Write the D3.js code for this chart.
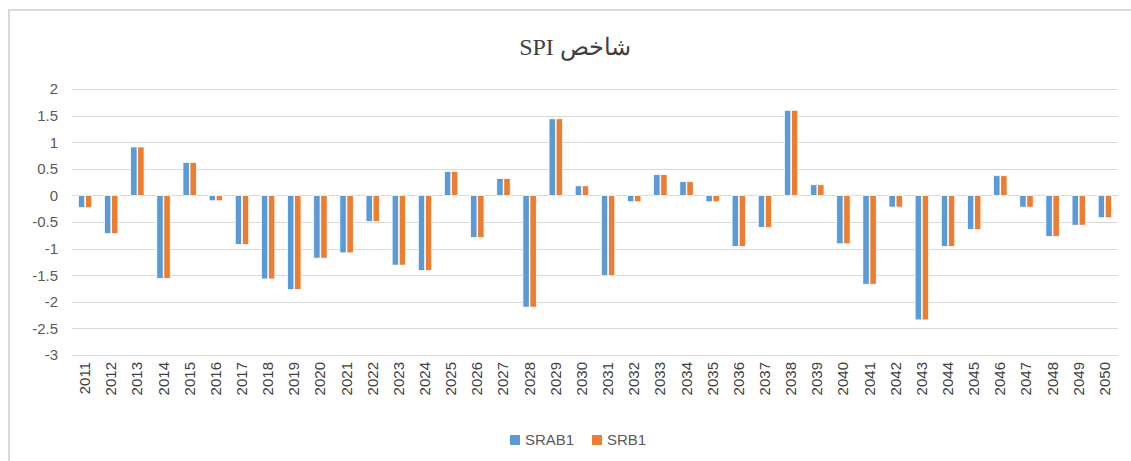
<!DOCTYPE html>
<html>
<head>
<meta charset="utf-8">
<script src="https://cdn.jsdelivr.net/npm/d3@7"></script>
<style>
  body { margin: 0; background: #fff; }
  text { font-family: "Liberation Sans", Arial, sans-serif; fill: #595959; }
</style>
</head>
<body>
<div class="viz"></div>
<script>
var years = d3.range(2011, 2051).map(String);
var seriesNames = ['SRAB1', 'SRB1'];
var srab1 = [-0.23, -0.72, 0.91, -1.56, 0.62, -0.1, -0.92, -1.57, -1.77, -1.18,
             -1.08, -0.49, -1.31, -1.41, 0.45, -0.79, 0.32, -2.1, 1.44, 0.18,
             -1.51, -0.12, 0.39, 0.26, -0.12, -0.96, -0.6, 1.6, 0.2, -0.91,
             -1.67, -0.22, -2.34, -0.96, -0.64, 0.37, -0.22, -0.77, -0.56, -0.42];
var srb1 = srab1.slice();
var yTicks = [2, 1.5, 1, 0.5, 0, -0.5, -1, -1.5, -2, -2.5, -3];
var colors = ['#5B9BD5', '#ED7D31'];

var width = 1131, height = 461;
var margin = {top: 89, right: 13, bottom: 106, left: 72};

var svg = d3.select('.viz').append('svg')
    .attr('width', width)
    .attr('height', height);

// chart frame
svg.append('rect')
    .attr('x', 9).attr('y', 10)
    .attr('width', width + 10).attr('height', height + 10)
    .attr('fill', 'none')
    .attr('stroke', '#d9d9d9')
    .attr('stroke-width', 2);

// title
svg.append('text')
    .attr('x', 575).attr('y', 55)
    .attr('text-anchor', 'middle')
    .attr('direction', 'rtl')
    .style('font-family', '"Liberation Serif", "DejaVu Serif", serif')
    .style('font-size', '24px')
    .style('fill', '#404040')
    .text('شاخص SPI');

var x = d3.scaleBand()
    .domain(years)
    .range([margin.left, width - margin.right]);

var x1 = d3.scaleBand()
    .domain(seriesNames)
    .range([0, x.bandwidth()])
    .paddingInner(0.1)
    .paddingOuter(0.9);

var y = d3.scaleLinear()
    .domain([-3, 2])
    .range([height - margin.bottom, margin.top]);

var g = svg.append('g');

// gridlines
g.selectAll('.grid')
    .data(yTicks)
    .enter().append('line')
    .attr('x1', margin.left).attr('x2', width - margin.right)
    .attr('y1', function(d) { return Math.round(y(d)) + 0.5; })
    .attr('y2', function(d) { return Math.round(y(d)) + 0.5; })
    .attr('stroke', '#d9d9d9')
    .attr('stroke-width', 1);

// y labels
var yAxis = d3.axisLeft(y).tickValues(yTicks).tickSize(0).tickPadding(14)
    .tickFormat(function(d) { return String(d); });
var ya = svg.append('g')
    .attr('transform', 'translate(' + margin.left + ',0)')
    .call(yAxis);
ya.select('.domain').remove();
ya.selectAll('text')
    .style('font-family', '"Liberation Sans", Arial, sans-serif')
    .style('font-size', '15px')
    .attr('fill', '#595959');

// bars
var rows = years.map(function(yr, i) {
    return {year: yr, values: [srab1[i], srb1[i]]};
});

var grp = g.selectAll('.yr')
    .data(rows)
    .enter().append('g')
    .attr('transform', function(d) { return 'translate(' + x(d.year) + ',0)'; });

grp.selectAll('rect')
    .data(function(d) { return d.values.map(function(v, j) { return {s: seriesNames[j], v: v, j: j}; }); })
    .enter().append('rect')
    .attr('x', function(d) { return x1(d.s); })
    .attr('width', x1.bandwidth())
    .attr('y', function(d) { return y(Math.max(0, d.v)); })
    .attr('height', function(d) { return Math.abs(y(d.v) - y(0)); })
    .attr('fill', function(d) { return colors[d.j]; })
    .attr('stroke', '#fff')
    .attr('stroke-width', 0.75);

// x labels
var xa = svg.append('g');
xa.selectAll('text')
    .data(years)
    .enter().append('text')
    .attr('transform', function(d) {
        return 'translate(' + (x(d) + x.bandwidth() / 2 + 5) + ',362) rotate(-90)';
    })
    .attr('text-anchor', 'end')
    .style('font-size', '15px')
    .style('fill', '#404040')
    .text(function(d) { return d; });

// legend
var legend = svg.append('g').attr('transform', 'translate(510,440)');
var lx = [0, 82];
seriesNames.forEach(function(n, i) {
    legend.append('rect')
        .attr('x', lx[i]).attr('y', -5)
        .attr('width', 10).attr('height', 10)
        .attr('fill', colors[i]);
    legend.append('text')
        .attr('x', lx[i] + 15).attr('y', 5)
        .style('font-size', '15px')
        .text(n);
});
</script>
</body>
</html>
